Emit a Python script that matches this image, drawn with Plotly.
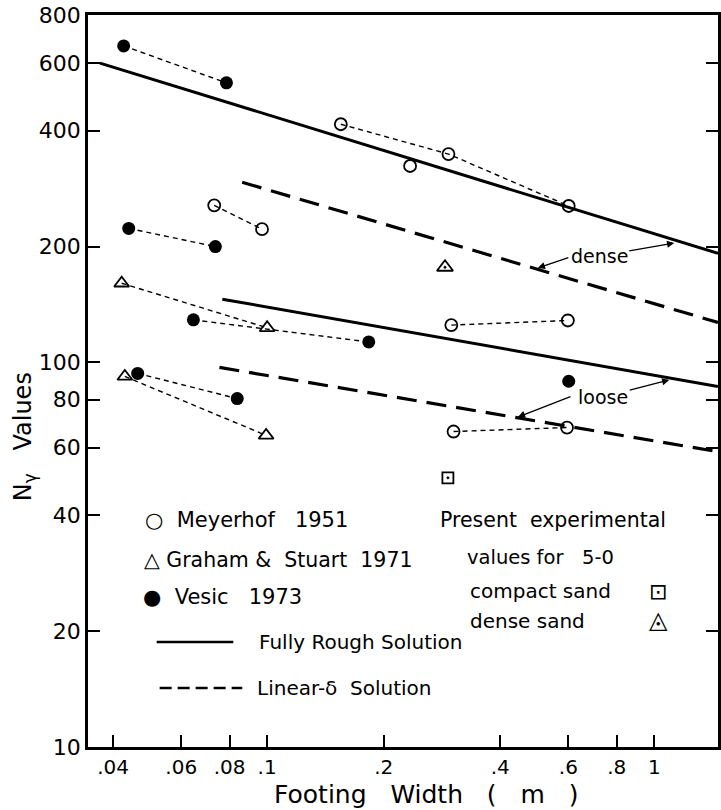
import plotly.graph_objects as go

# ---------------- data ----------------
# None separates the individually connected groups of points
meyerhof_b = [0.073, 0.097, None, 0.155, 0.294, 0.601, None, 0.234, None, 0.299, 0.598, None, 0.303, 0.595]
meyerhof_n = [256, 222, None, 416, 348, 255, None, 324, None, 125, 128.5, None, 66.1, 67.7]

graham_b = [0.0421, 0.100, None, 0.0429, 0.0994]
graham_n = [160.6, 123, None, 91.9, 64.6]

vesic_b = [0.0426, 0.0785, None, 0.0439, 0.0735, None, 0.0645, 0.183, None, 0.0463, 0.0837, None, 0.601]
vesic_n = [665, 533, None, 223, 200, None, 129, 113, None, 93.6, 80.5, None, 89.3]

compact_b = [0.293]
compact_n = [50.1]
dense_exp_b = [0.288]
dense_exp_n = [176.7]

rough_dense_b = [0.037, 1.46]
rough_dense_n = [600, 192]
rough_loose_b = [0.0766, 1.46]
rough_loose_n = [146, 86.6]
lin_dense_b = [0.0862, 1.46]
lin_dense_n = [294, 127]
lin_loose_b = [0.0753, 1.46]
lin_loose_n = [97, 58.6]

x_tickvals = [0.04, 0.06, 0.08, 0.1, 0.2, 0.4, 0.6, 0.8, 1]
x_ticktext = [".04", ".06", ".08", ".1", ".2", ".4", ".6", ".8", "1"]
y_tickvals = [10, 20, 40, 60, 80, 100, 200, 400, 600, 800]
y_ticktext = ["10", "20", "40", "60", "80", "100", "200", "400", "600", "800"]

# ---------------- figure ----------------
W, H = 721, 810
ML, MR, MT, MB = 88, 0, 15, 63
PW, PH = W - ML - MR, H - MT - MB
FONT = "DejaVu Sans"


def px(x):
    return (x - ML) / PW


def py(y):
    return (H - MB - y) / PH


fig = go.Figure()

thin = dict(color="black", width=1.4, dash="5px,4px")

fig.add_trace(go.Scatter(x=meyerhof_b, y=meyerhof_n, mode="lines+markers", line=thin,
                         marker=dict(symbol="circle-open", size=12, color="black", line=dict(width=1.8)),
                         name="Meyerhof 1951"))
fig.add_trace(go.Scatter(x=graham_b, y=graham_n, mode="lines+markers", line=thin,
                         marker=dict(symbol="triangle-up-open", size=13, color="black", line=dict(width=1.8)),
                         name="Graham & Stuart 1971"))
fig.add_trace(go.Scatter(x=vesic_b, y=vesic_n, mode="lines+markers", line=thin,
                         marker=dict(symbol="circle", size=13, color="black"),
                         name="Vesic 1973"))
fig.add_trace(go.Scatter(x=compact_b, y=compact_n, mode="markers",
                         marker=dict(symbol="square-open-dot", size=11, color="black", line=dict(width=1.8)),
                         name="compact sand"))
fig.add_trace(go.Scatter(x=dense_exp_b, y=dense_exp_n, mode="markers",
                         marker=dict(symbol="triangle-up-open-dot", size=14, color="black", line=dict(width=1.8)),
                         name="dense sand"))

solid = dict(color="black", width=3)
longdash = dict(color="black", width=3.2, dash="20px,10px")
fig.add_trace(go.Scatter(x=rough_dense_b, y=rough_dense_n, mode="lines", line=solid, name="Fully Rough (dense)"))
fig.add_trace(go.Scatter(x=rough_loose_b, y=rough_loose_n, mode="lines", line=solid, name="Fully Rough (loose)"))
fig.add_trace(go.Scatter(x=lin_dense_b, y=lin_dense_n, mode="lines", line=longdash, name="Linear-δ (dense)"))
fig.add_trace(go.Scatter(x=lin_loose_b, y=lin_loose_n, mode="lines", line=longdash, name="Linear-δ (loose)"))

annotations = []


def txt(x, y, s, size=19, xanchor="left", **kw):
    annotations.append(dict(x=px(x), y=py(y), xref="paper", yref="paper", text=s, showarrow=False,
                            xanchor=xanchor, yanchor="middle",
                            font=dict(family=FONT, size=size, color="black"), **kw))


# legend block (left)
txt(143, 520, "○  Meyerhof   1951", size=21)
txt(142, 560, "△ Graham &  Stuart  1971", size=20.5)
txt(141, 597, "●  Vesic   1973", size=21)
txt(258, 642, "Fully Rough Solution", size=20)
txt(256, 688, "Linear-δ  Solution", size=20)
# legend block (right)
txt(440, 520, "Present  experimental", size=20.5)
txt(467, 557, "values for   5-0", size=19.5)
txt(470, 591, "compact sand", size=20)
txt(470, 621, "dense sand", size=20)
txt(661, 591, "⊡", size=22, xanchor="center")
txt(661, 620, "◬", size=24, xanchor="center")

# curve labels, each with an arrow to the upper curve
annotations.append(dict(x=px(677), y=py(243), xref="paper", yref="paper", text="dense", showarrow=True,
                        ax=602 - 677, ay=256 - 243, axref="pixel", ayref="pixel",
                        arrowhead=2, arrowsize=1.1, arrowwidth=1.3, arrowcolor="black",
                        font=dict(family=FONT, size=19, color="black")))
annotations.append(dict(x=px(672), y=py(380), xref="paper", yref="paper", text="loose", showarrow=True,
                        ax=606 - 672, ay=397 - 380, axref="pixel", ayref="pixel",
                        arrowhead=2, arrowsize=1.1, arrowwidth=1.3, arrowcolor="black",
                        font=dict(family=FONT, size=19, color="black")))


def arrow(hx, hy, tx, ty):
    annotations.append(dict(x=px(hx), y=py(hy), xref="paper", yref="paper", text="", showarrow=True,
                            ax=tx - hx, ay=ty - hy, axref="pixel", ayref="pixel",
                            arrowhead=2, arrowsize=1.1, arrowwidth=1.3, arrowcolor="black"))


# arrows from the labels to the lower (Linear-δ) curves
arrow(540, 268, 572, 257)
arrow(520, 417, 574, 396)

# axis titles
annotations.append(dict(x=px(428), y=py(794), xref="paper", yref="paper", text="Footing   Width   (   m   )",
                        showarrow=False, xanchor="center", yanchor="middle",
                        font=dict(family=FONT, size=25, color="black")))
annotations.append(dict(x=px(24), y=py(437), xref="paper", yref="paper", text="N<sub>γ</sub>   Values",
                        showarrow=False, textangle=-90, xanchor="center", yanchor="middle",
                        font=dict(family=FONT, size=24, color="black")))

# legend sample lines
shapes = [
    dict(type="line", xref="paper", yref="paper", x0=px(157), x1=px(234), y0=py(642), y1=py(642),
         line=dict(color="black", width=2.5)),
    dict(type="line", xref="paper", yref="paper", x0=px(160), x1=px(243), y0=py(688), y1=py(688),
         line=dict(color="black", width=2.5, dash="12px,6px")),
]

fig.update_layout(
    width=W, height=H,
    margin=dict(l=ML, r=MR, t=MT, b=MB),
    paper_bgcolor="white", plot_bgcolor="white",
    showlegend=False,
    annotations=annotations,
    shapes=shapes,
    font=dict(family=FONT, color="black"),
    xaxis=dict(type="log", range=[-1.4627, 0.1645], tickvals=x_tickvals, ticktext=x_ticktext,
               ticks="inside", ticklen=12, tickwidth=2, tickcolor="black",
               showline=True, linecolor="black", linewidth=2.5, mirror=True,
               showgrid=False, zeroline=False,
               tickfont=dict(family=FONT, size=20, color="black")),
    yaxis=dict(type="log", range=[1, 2.9031], tickvals=y_tickvals, ticktext=y_ticktext,
               ticks="inside", ticklen=12, tickwidth=2, tickcolor="black",
               showline=True, linecolor="black", linewidth=2.5, mirror="ticks",
               showgrid=False, zeroline=False,
               tickfont=dict(family=FONT, size=22, color="black")),
)

fig.write_html("out.html")
